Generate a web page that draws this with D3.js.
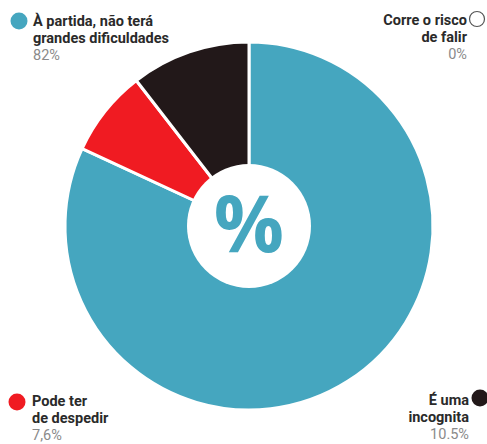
<!DOCTYPE html>
<html><head><meta charset="utf-8">
<script src="https://cdn.jsdelivr.net/npm/d3@7"></script>
<style>
html,body{margin:0;padding:0;background:#fff;}
svg{display:block;}
</style></head>
<body>
<svg id="chart" width="487" height="444"></svg>
<script>
const categories = ["À partida, não terá grandes dificuldades", "Pode ter de despedir", "É uma incognita", "Corre o risco de falir"];
const values = [82, 7.6, 10.5, 0];
const valueLabels = ["82%", "7,6%", "10.5%", "0%"];
const colors = ["#45a6bf", "#f01b22", "#221819", "#ffffff"];

const svg = d3.select("#chart");
const cx = 249, cy = 226, R = 184, r0 = 62;

const pie = d3.pie().sort(null).value(d => d.v);
const data = categories.map((c, i) => ({c, v: values[i], col: colors[i]}));
const arcs = pie(data);
const arc = d3.arc().innerRadius(0).outerRadius(R);

const g = svg.append("g").attr("transform", `translate(${cx},${cy})`);
g.selectAll("path").data(arcs.filter(a => a.data.v > 0)).join("path")
  .attr("d", arc)
  .attr("fill", d => d.data.col)
  .attr("stroke", "#fff")
  .attr("stroke-width", 3)
  .attr("stroke-linejoin", "round");
g.append("circle").attr("r", r0).attr("fill", "#fff");
g.append("text").attr("text-anchor", "middle").attr("y", 26)
  .attr("font-family", "'Open Sans', sans-serif").attr("font-weight", 700)
  .attr("font-size", 78).attr("fill", colors[0]).text("%");

// legends
const font = "'Liberation Sans Narrow', 'Roboto', sans-serif";
const fs = 14.5, lh = 17;
const legends = [
  {i: 0, lines: ["À partida, não terá", "grandes dificuldades"], x: 33, y: 26, anchor: "start", dx: 19, dy: 21},
  {i: 3, lines: ["Corre o risco", "de falir"], x: 467, y: 25, anchor: "end", dx: 477, dy: 19},
  {i: 1, lines: ["Pode ter", "de despedir"], x: 32, y: 406, anchor: "start", dx: 17, dy: 402},
  {i: 2, lines: ["É uma", "incognita"], x: 469, y: 405, anchor: "end", dx: 480, dy: 398}
];
legends.forEach(L => {
  L.lines.forEach((ln, k) => {
    svg.append("text").attr("text-anchor", L.anchor)
      .attr("font-family", font).attr("font-size", fs)
      .attr("x", L.x).attr("y", L.y + k * lh)
      .attr("font-weight", 700).attr("fill", "#2a2a2a").text(ln);
  });
  svg.append("text").attr("text-anchor", L.anchor)
    .attr("font-family", font).attr("font-size", fs)
    .attr("x", L.x).attr("y", L.y + 2 * lh)
    .attr("font-weight", 400).attr("fill", "#8a8a8a").text(valueLabels[L.i]);
  const isZero = values[L.i] === 0;
  svg.append("circle").attr("cx", L.dx).attr("cy", L.dy).attr("r", isZero ? 7.5 : 8.5)
    .attr("fill", isZero ? "#fff" : colors[L.i])
    .attr("stroke", isZero ? "#555" : "none").attr("stroke-width", 1.2);
});
</script>
</body></html>
